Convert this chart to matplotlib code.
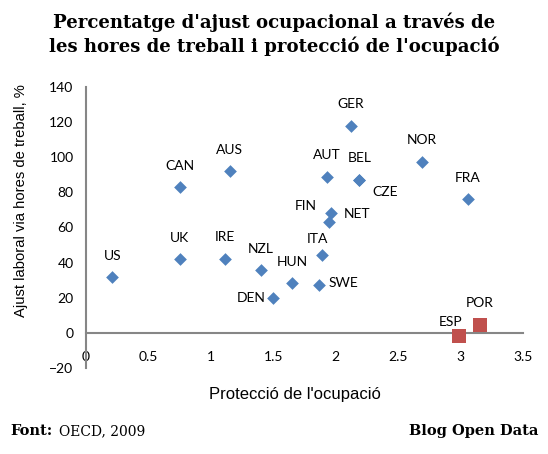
import matplotlib
matplotlib.use("Agg")
import matplotlib.pyplot as plt

# Data
countries = ["US", "CAN", "UK", "AUS", "IRE", "NZL", "DEN", "HUN", "SWE", "ITA",
             "FIN", "NET", "AUT", "GER", "BEL", "CZE", "NOR", "FRA"]
protection = [0.21, 0.75, 0.75, 1.15, 1.11, 1.40, 1.50, 1.65, 1.87, 1.89,
              1.96, 1.95, 1.93, 2.12, 2.19, 2.19, 2.69, 3.06]
hours_adj = [32, 83, 42, 92, 42, 36, 20, 28.5, 27, 44.5,
             68, 63, 88.5, 118, 87, 87, 97.5, 76]
# label offsets in pixels (dx, dy)
offsets = {"US": (0, 21), "CAN": (0, 21), "UK": (0, 21), "AUS": (0, 21), "IRE": (0, 22),
           "NZL": (0, 21), "DEN": (-22, 0), "HUN": (0, 21), "SWE": (24, 2), "ITA": (-5, 16),
           "FIN": (-25, 7), "NET": (28, 8), "AUT": (0, 22), "GER": (0, 22), "BEL": (0, 22),
           "CZE": (26, -12), "NOR": (0, 22), "FRA": (0, 21)}

hl_countries = ["ESP", "POR"]
hl_protection = [2.99, 3.155]
hl_adj = [-1.7, 4.2]
hl_offsets = {"ESP": (-9, 14), "POR": (0, 22)}

x_ticks = [0, 0.5, 1, 1.5, 2, 2.5, 3, 3.5]
x_ticklabels = ["0", "0.5", "1", "1.5", "2", "2.5", "3", "3.5"]
y_ticks = [-20, 0, 20, 40, 60, 80, 100, 120, 140]

W, H = 548, 454
fig = plt.figure(figsize=(W / 100, H / 100), dpi=100)
ax = fig.add_axes([86 / W, 1 - 368 / H, (523 - 86) / W, (368 - 87) / H])

ax.scatter(protection, hours_adj, marker="D", s=42, color="#4F81BD", zorder=3, linewidths=0)
ax.scatter(hl_protection, hl_adj, marker="s", s=110, color="#C0504D", zorder=3, linewidths=0)

lab_font = dict(family=["Lato", "DejaVu Sans"], fontsize=10, color="black")
for c, x, y in zip(countries, protection, hours_adj):
    dx, dy = offsets[c]
    ax.annotate(c, (x, y), xytext=(dx * 0.72, dy * 0.72), textcoords="offset points",
                ha="center", va="center", **lab_font)
for c, x, y in zip(hl_countries, hl_protection, hl_adj):
    dx, dy = hl_offsets[c]
    ax.annotate(c, (x, y), xytext=(dx * 0.72, dy * 0.72), textcoords="offset points",
                ha="center", va="center", **lab_font)

ax.set_xlim(0, 3.5)
ax.set_ylim(-20, 140)
ax.set_xticks(x_ticks)
ax.set_xticklabels(x_ticklabels)
ax.set_yticks(y_ticks)
for s in ["top", "right"]:
    ax.spines[s].set_visible(False)
ax.spines["bottom"].set_position(("data", 0))
for s in ["left", "bottom"]:
    ax.spines[s].set_color("#868686")
    ax.spines[s].set_linewidth(1.5)
ax.tick_params(axis="both", length=0, labelsize=10)
ax.tick_params(axis="x", pad=13)
ax.tick_params(axis="y", pad=9)
for t in ax.get_xticklabels() + ax.get_yticklabels():
    t.set_family(["Lato", "DejaVu Sans"])
ax.patch.set_alpha(0)

fig.text(0.5, 1 - 34 / H, "Percentatge d'ajust ocupacional a través de\nles hores de treball i protecció de l'ocupació",
         ha="center", va="center", fontsize=13.1, fontweight="bold", family="DejaVu Serif",
         linespacing=1.3)
fig.text(295 / W, 1 - 395 / H, "Protecció de l'ocupació", ha="center", va="center",
         fontsize=12, family="Liberation Sans")
fig.text(21 / W, 1 - 201 / H, "Ajust laboral via hores de treball, %", ha="center", va="center",
         rotation=90, fontsize=10.6, family="Liberation Sans")
fig.text(10 / W, 1 - 431 / H, "Font:", ha="left", va="center", fontsize=10.5,
         fontweight="bold", family="DejaVu Serif")
fig.text(59 / W, 1 - 431 / H, "OECD, 2009", ha="left", va="center", fontsize=10,
         family="DejaVu Serif")
fig.text(538 / W, 1 - 431 / H, "Blog Open Data", ha="right", va="center", fontsize=10.5,
         fontweight="bold", family="DejaVu Serif")

fig.savefig("out.png", dpi=100)
